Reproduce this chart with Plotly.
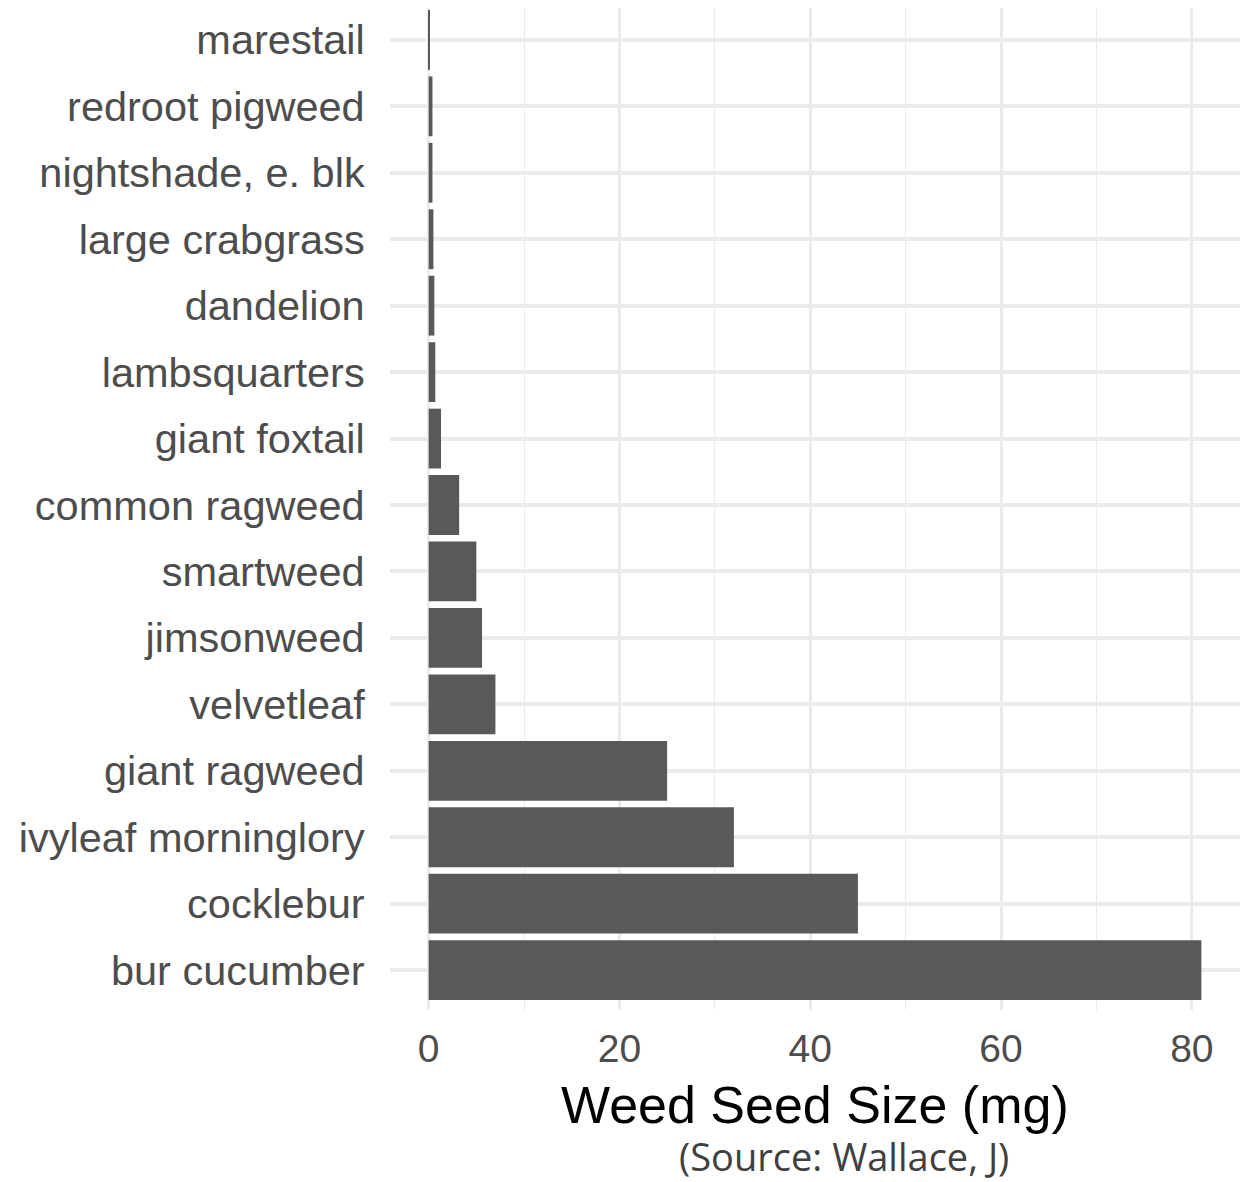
import plotly.graph_objects as go

weeds = ["marestail", "redroot pigweed", "nightshade, e. blk", "large crabgrass",
         "dandelion", "lambsquarters", "giant foxtail", "common ragweed",
         "smartweed", "jimsonweed", "velvetleaf", "giant ragweed",
         "ivyleaf morninglory", "cocklebur", "bur cucumber"]
seed_mg = [0.1, 0.4, 0.4, 0.5, 0.6, 0.7, 1.3, 3.2, 5.0, 5.6, 7.0, 25.0, 32.0, 45.0, 81.0]
x_ticks = [0, 20, 40, 60, 80]

# bottom-to-top order for plotly
cats = weeds[::-1]
vals = seed_mg[::-1]

fig = go.Figure(go.Bar(
    x=vals, y=cats, orientation="h",
    marker=dict(color="#595959", line=dict(width=0)),
    width=0.9,
))

fig.update_layout(
    width=1242, height=1174,
    margin=dict(l=382, r=10, t=0, b=172, autoexpand=False),
    plot_bgcolor="white", paper_bgcolor="white",
    showlegend=False,
    font=dict(family="Liberation Sans, Arial, sans-serif", color="#4d4d4d"),
    xaxis=dict(
        range=[-4.05, 85.05],
        tickvals=x_ticks,
        ticktext=[str(v) for v in x_ticks],
        tickfont=dict(size=39, color="#4d4d4d"),
        showgrid=True, gridcolor="#ebebeb", gridwidth=2.8,
        minor=dict(dtick=10, tick0=0, showgrid=True, gridcolor="#ebebeb", gridwidth=1.4),
        zeroline=False, showline=False,
        ticks="", automargin=False,
        ticklabelstandoff=12,
    ),
    yaxis=dict(
        type="category",
        categoryorder="array", categoryarray=cats,
        range=[-0.6, 14.48],
        tickfont=dict(size=41.5, color="#4d4d4d"),
        showgrid=True, gridcolor="#ebebeb", gridwidth=3.5,
        zeroline=False, showline=False,
        ticks="outside", ticklen=16, tickcolor="rgba(0,0,0,0)",
        automargin=False,
    ),
    annotations=[
        dict(text="Weed Seed Size (mg)", xref="paper", yref="paper",
             x=0.5, y=-0.0948, xanchor="center", yanchor="middle",
             showarrow=False, font=dict(size=52, color="black",
                                        family="Liberation Sans, Arial, sans-serif")),
        dict(text="(Source: Wallace, J)", xref="paper", yref="paper",
             x=0.534, y=-0.1462, xanchor="center", yanchor="middle",
             showarrow=False, borderpad=0,
             font=dict(size=38, color="#404040", family="Open Sans, sans-serif")),
    ],
)

fig.write_html("out.html")
